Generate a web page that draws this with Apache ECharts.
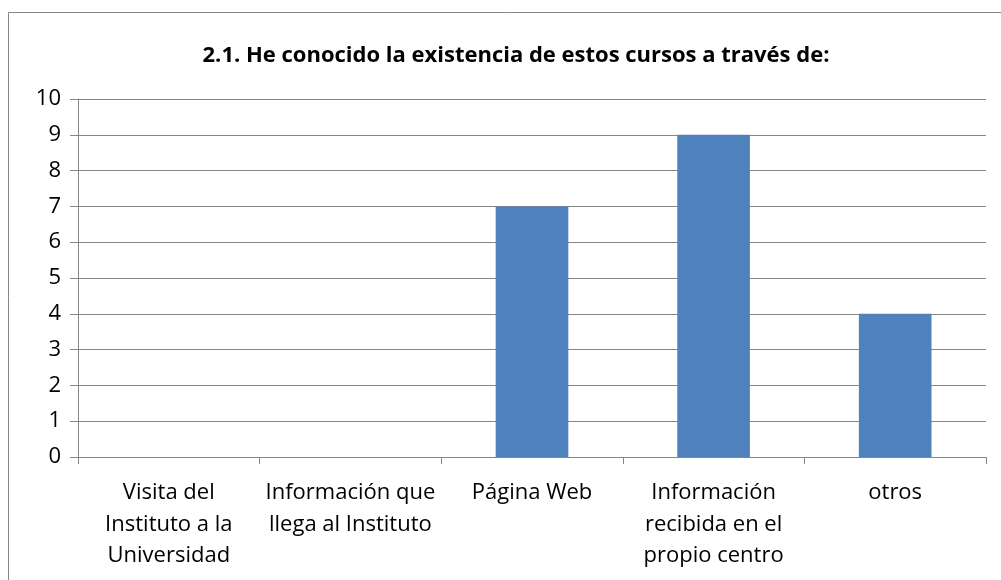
<!DOCTYPE html>
<html>
<head>
<meta charset="utf-8">
<script src="https://cdn.jsdelivr.net/npm/echarts@6/dist/echarts.min.js"></script>
<style>
  html, body { margin: 0; padding: 0; background: #fff; }
  #chart { width: 1001px; height: 580px; }
</style>
</head>
<body>
<div id="chart"></div>
<script>
const titleText = "2.1. He conocido la existencia de estos cursos a través de:";
const categories = [
  "Visita del\nInstituto a la\nUniversidad",
  "Información que\nllega al Instituto",
  "Página Web",
  "Información\nrecibida en el\npropio centro",
  "otros",
];
const values = [0, 0, 7, 9, 4];

const font = "'Open Sans', 'Noto Sans', sans-serif";
const gray = "#868686";

const chart = echarts.init(document.getElementById("chart"));
chart.setOption({
  animation: false,
  textStyle: { fontFamily: font },
  title: {
    text: titleText,
    left: 511,
    top: 40,
    textAlign: "center",
    textStyle: { fontFamily: font, fontSize: 22, fontWeight: "bold", color: "#000" },
  },
  graphic: [
    {
      type: "rect",
      shape: { x: 8.5, y: 12.5, width: 1100, height: 700 },
      style: { fill: "none", stroke: gray, lineWidth: 1 },
      silent: true,
    },
  ],
  grid: { left: 78, right: 15, top: 99, bottom: 123 },
  xAxis: {
    type: "category",
    data: categories,
    axisLine: { lineStyle: { color: gray, width: 1 } },
    axisTick: { show: true, length: 7, lineStyle: { color: gray } },
    axisLabel: {
      color: "#000",
      fontSize: 22,
      fontFamily: font,
      lineHeight: 31.5,
      margin: 20,
      interval: 0,
    },
  },
  yAxis: {
    type: "value",
    min: 0,
    max: 10,
    interval: 1,
    axisLine: { show: true, lineStyle: { color: gray, width: 1 } },
    axisTick: { show: true, length: 8, lineStyle: { color: gray } },
    splitLine: { lineStyle: { color: gray, width: 1 } },
    axisLabel: { color: "#000", fontSize: 22, fontFamily: font, margin: 17 },
  },
  series: [
    {
      type: "bar",
      data: values,
      barWidth: "40%",
      itemStyle: { color: "#4F81BD" },
    },
  ],
});
</script>
</body>
</html>
